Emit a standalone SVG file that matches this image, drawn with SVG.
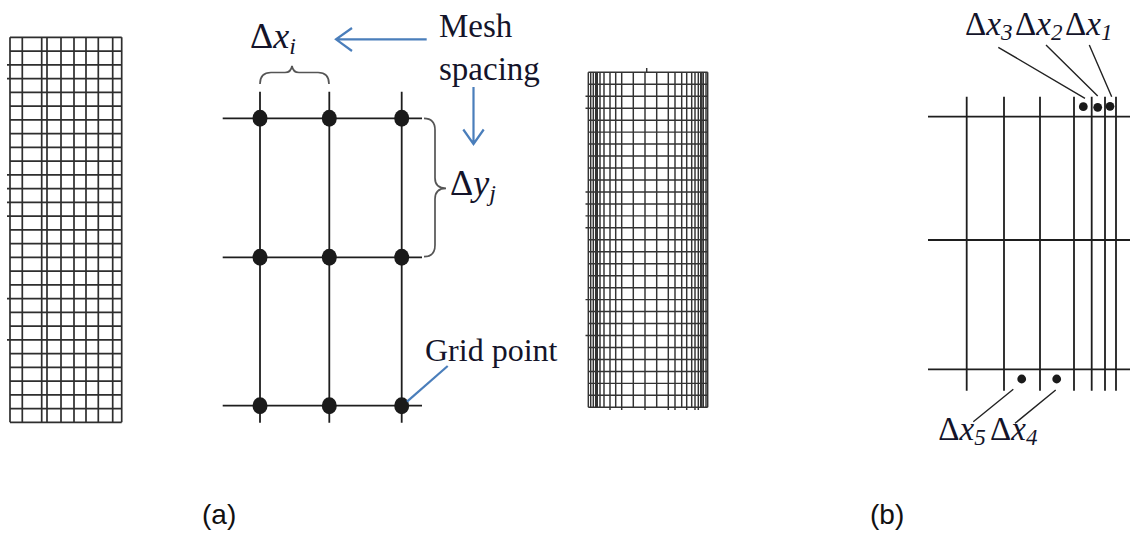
<svg xmlns="http://www.w3.org/2000/svg" width="1132" height="533" viewBox="0 0 1132 533">
<style>
.g1{stroke:#2e2e2e;stroke-width:1.7;fill:none}
.g3{stroke:#333;stroke-width:1.45;fill:none}
.ln{stroke:#1e1e1e;stroke-width:1.8;fill:none}
.br{stroke:#555;stroke-width:1.7;fill:none}
.blue{stroke:#4a7ebb;stroke-width:2.2;fill:none}
.lead{stroke:#222;stroke-width:1.4;fill:none}
.dot{fill:#1a1a1a}
.m{font-family:"Liberation Serif","DejaVu Serif",serif;fill:#14142a}
.lab{font-family:"Liberation Sans",Arial,sans-serif;font-size:28px;fill:#111}
</style>
<rect width="1132" height="533" fill="#fff"/>

<g id="grid-left">
<path class="g1" d="M10,37.3V422.3M22.3,37.3V422.3M41.7,37.3V422.3M47,37.3V422.3M61,37.3V422.3M74,37.3V422.3M86,37.3V422.3M98.3,37.3V422.3M112.7,37.3V422.3M121.7,37.3V422.3"/>
<path class="g1" d="M10,37.3H121.7M10,51.05H121.7M10,64.8H121.7M10,78.55H121.7M10,92.3H121.7M10,106.05H121.7M10,119.8H121.7M10,133.55H121.7M10,147.3H121.7M10,161.05H121.7M10,174.8H121.7M10,188.55H121.7M10,202.3H121.7M10,216.05H121.7M10,229.8H121.7M10,243.55H121.7M10,257.3H121.7M10,271.05H121.7M10,284.8H121.7M10,298.55H121.7M10,312.3H121.7M10,326.05H121.7M10,339.8H121.7M10,353.55H121.7M10,367.3H121.7M10,381.05H121.7M10,394.8H121.7M10,408.55H121.7M10,422.3H121.7"/>
<path class="g1" d="M7,64.8H10M7,78.55H10M7,174.8H10M7,188.55H10M7,202.3H10M7,216.05H10M7,298.55H10M7,339.8H10"/>
</g>

<g id="grid-middle">
<path class="ln" d="M222.7,118.3H422M222.7,257.3H422M222.7,405.7H422"/>
<path class="ln" d="M260,91.7V422.7M329.3,91.7V422.7M401.7,91.7V422.7"/>
<g class="dot">
<ellipse cx="260" cy="118.3" rx="7.5" ry="8.5"/>
<ellipse cx="329.3" cy="118.3" rx="7.5" ry="8.5"/>
<ellipse cx="401.7" cy="118.3" rx="7.5" ry="8.5"/>
<ellipse cx="260" cy="257.3" rx="7.5" ry="8.5"/>
<ellipse cx="329.3" cy="257.3" rx="7.5" ry="8.5"/>
<ellipse cx="401.7" cy="257.3" rx="7.5" ry="8.5"/>
<ellipse cx="260" cy="405.7" rx="7.5" ry="8.5"/>
<ellipse cx="329.3" cy="405.7" rx="7.5" ry="8.5"/>
<ellipse cx="401.7" cy="405.7" rx="7.5" ry="8.5"/>
</g>
</g>

<g id="brace-dx">
<path class="br" d="M260,84 Q260,72.5 271,72.5 L285,72.5 Q291,72.5 292,66 Q293,72.5 299,72.5 L318,72.5 Q329,72.5 329,84"/>
<text class="m" x="250" y="48" font-size="36">Δ<tspan font-style="italic">x</tspan><tspan font-style="italic" font-size="24" dy="6">i</tspan></text>
</g>

<g id="brace-dy">
<path class="br" d="M424,118.3 Q435,118.3 435,130 L435,178 Q435,188.3 446,188.3 Q435,188.3 435,199 L435,245 Q435,256.7 424,256.7"/>
<text class="m" x="450" y="195" font-size="36">Δ<tspan font-style="italic">y</tspan><tspan font-style="italic" font-size="24" dy="6">j</tspan></text>
</g>

<g id="mesh-spacing">
<text class="m" x="439" y="37" font-size="33">Mesh</text>
<text class="m" x="439" y="80" font-size="33">spacing</text>
</g>

<g id="grid-point">
<text class="m" x="425" y="361" font-size="32">Grid point</text>
</g>

<g id="grid-right">
<path class="g3" d="M588.3,72.3V407.3M590.7,72.3V407.3M593.3,72.3V407.3M595.7,72.3V407.3M597.3,72.3V407.3M600,72.3V407.3M604,72.3V407.3M610,72.3V410M615.7,72.3V407.3M621.7,72.3V410M633.3,72.3V407.3M645,72.3V410M656.7,72.3V407.3M668.3,72.3V410M675,72.3V410M681.7,72.3V407.3M686.7,72.3V410M691.7,72.3V407.3M695,72.3V410M698.3,72.3V410M700.7,72.3V407.3M703.3,72.3V407.3M706,72.3V407.3M707.7,72.3V407.3"/>
<path class="g3" stroke-width="2.2" d="M596.5,72.3V407.3M701.8,72.3V407.3"/>
<path class="g3" d="M588.3,72.3H707.7M588.3,84.26H707.7M588.3,96.23H707.7M588.3,108.19H707.7M588.3,120.16H707.7M588.3,132.12H707.7M588.3,144.09H707.7M588.3,156.05H707.7M588.3,168.01H707.7M588.3,179.98H707.7M588.3,191.94H707.7M588.3,203.91H707.7M588.3,215.87H707.7M588.3,227.84H707.7M588.3,239.8H707.7M588.3,251.76H707.7M588.3,263.73H707.7M588.3,275.69H707.7M588.3,287.66H707.7M588.3,299.62H707.7M588.3,311.59H707.7M588.3,323.55H707.7M588.3,335.51H707.7M588.3,347.48H707.7M588.3,359.44H707.7M588.3,371.41H707.7M588.3,383.37H707.7M588.3,395.34H707.7M588.3,407.3H707.7"/>
<path class="g3" d="M646.7,68V72.3M585.5,96.23H588.3M585.5,108.19H588.3M585.5,191.94H588.3M585.5,203.91H588.3M585.5,215.87H588.3M585.5,227.84H588.3M585.5,299.62H588.3M585.5,335.51H588.3"/>
</g>

<g id="panel-b">
<path class="ln" d="M928,116.7H1130M928,240H1130M928,369.3H1130"/>
<path class="ln" d="M966.7,96.7V390.7M1004,96.7V390.7M1040,96.7V390.7M1074,96.7V390.7M1091.7,96.7V390.7M1105,96.7V390.7M1116,96.7V390.7"/>
<g class="dot">
<circle cx="1083.3" cy="106.7" r="4.4"/>
<circle cx="1097.7" cy="107.3" r="4.4"/>
<circle cx="1110" cy="106.3" r="4.4"/>
<circle cx="1021.7" cy="379" r="4.4"/>
<circle cx="1056.7" cy="379" r="4.4"/>
</g>
<text class="m" x="965" y="35" font-size="33">Δ<tspan font-style="italic">x</tspan><tspan font-style="italic" font-size="23" dy="5">3</tspan></text>
<text class="m" x="1015" y="35" font-size="33">Δ<tspan font-style="italic">x</tspan><tspan font-style="italic" font-size="23" dy="5">2</tspan></text>
<text class="m" x="1065" y="35" font-size="33">Δ<tspan font-style="italic">x</tspan><tspan font-style="italic" font-size="23" dy="5">1</tspan></text>
<text class="m" x="938.3" y="440" font-size="33">Δ<tspan font-style="italic">x</tspan><tspan font-style="italic" font-size="23" dy="5">5</tspan></text>
<text class="m" x="990" y="440" font-size="33">Δ<tspan font-style="italic">x</tspan><tspan font-style="italic" font-size="23" dy="5">4</tspan></text>
</g>

<g id="connectors">
<path class="blue" d="M426.7,39.3H336M352,28L336,39.3L352,51"/>
<path class="blue" d="M473.5,87V144M463.3,129.5L473.5,144L483.7,129.5"/>
<path class="blue" stroke-width="1.5" d="M447.7,366L407,401.7"/>
<path class="lead" d="M998.3,47.3L1085,98.3M1046,45L1097.7,96M1089.3,45L1111.7,96.7"/>
<path class="lead" d="M1013.3,389.3L973.3,421.7M1055.7,390L1015,423.3"/>
</g>

<g id="labels">
<text class="lab" x="202" y="524">(a)</text>
<text class="lab" x="870" y="524">(b)</text>
</g>
</svg>
